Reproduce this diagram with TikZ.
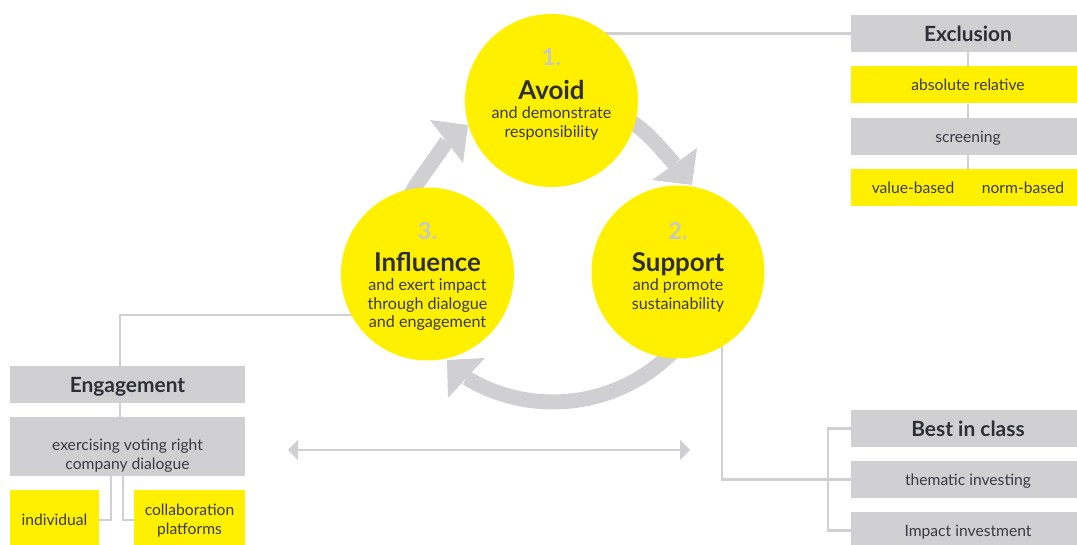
\documentclass[tikz,border=0pt]{standalone}
\usepackage{fontspec}
\setmainfont{Lato}
\usetikzlibrary{arrows.meta}
\definecolor{eyyellow}{HTML}{FFF000}
\definecolor{eygray}{HTML}{D0D0D3}
\definecolor{eydark}{HTML}{2E2E38}
\definecolor{eytext}{HTML}{3A3A42}
\definecolor{numgray}{HTML}{C8C8C4}
\pgfdeclarelayer{background}
\pgfsetlayers{background,main}
\newcommand{\stk}[1]{\begin{tabular}[t]{@{}c@{}}#1\end{tabular}}
\begin{document}
\begin{tikzpicture}[x=1bp,y=1bp,
  circ/.style={circle, fill=eyyellow, minimum size=173bp, inner sep=0pt},
  numtext/.style={anchor=base, text=numgray, font=\bfseries\fontsize{23.5}{26}\selectfont},
  titletext/.style={anchor=base, text=eydark, font=\bfseries\fontsize{26}{28}\selectfont},
  subtext/.style={anchor=base, text=eytext, inner sep=0pt, font=\fontsize{16.2}{18.5}\selectfont},
  gbox/.style={fill=eygray, minimum width=234bp, minimum height=37bp, inner sep=0pt,
    text=eytext, font=\fontsize{15.7}{19}\selectfont, text height=11.6bp, text depth=0pt},
  ybox/.style={gbox, fill=eyyellow},
  headbox/.style={gbox, text=eydark, font=\bfseries\fontsize{21}{24}\selectfont, text height=15.6bp},
  link/.style={draw=eygray, line width=2.5bp},
  cyc/.style={draw=eygray, line width=15bp},
  tiphead/.style={fill=eygray},
  dbl/.style={draw=eygray, line width=2bp, {Triangle[length=10bp,width=20bp]}-{Triangle[length=10bp,width=20bp]}}
]
\useasboundingbox (0,0) rectangle (1077,545);

% circles
\node[circ] (avoid) at (551.5,444.5) {};
\node[circ] (support) at (678,273) {};
\node[circ] (infl) at (427.5,271) {};

% circle texts
\node[numtext] (n1) at (551.5,479.5) {1.};
\node[titletext] (t1) at (551.5,445) {Avoid};
\node[subtext] (s1) at (551.5,426) {\stk{and demonstrate\\responsibility}};

\node[numtext] (n2) at (678,305) {2.};
\node[titletext] (t2) at (678,273) {Support};
\node[subtext] (s2) at (678,254) {\stk{and promote\\sustainability}};

\node[numtext] (n3) at (427.5,305) {3.};
\node[titletext] (t3) at (427.5,273) {Influence};
\node[subtext] (s3) at (427.5,254) {\stk{and exert impact\\through dialogue\\and engagement}};

% exclusion column
\node[headbox] (excl) at (968,511.5) {Exclusion};
\node[ybox] (abs) at (968,460) {absolute relative};
\node[gbox] (scr) at (968,408.5) {screening};
\node[ybox] (val) at (968,357.5) {\makebox[110bp]{value-based}\makebox[110bp]{norm-based}};

% best in class column
\node[headbox] (best) at (968,116.5) {Best in class};
\node[gbox] (them) at (968,65.5) {thematic investing};
\node[gbox] (imp) at (968,14.5) {Impact investment};

% engagement column
\node[headbox, minimum width=235bp] (eng) at (127.5,160.5) {Engagement};
\node[gbox, minimum width=235bp, minimum height=59bp, text height=32.3bp, text depth=24.7bp]
  (exer) at (127.5,98.5) {\stk{exercising voting right\\company dialogue}};
\node[ybox, minimum width=89bp, minimum height=55bp, text height=16.4bp]
  (indiv) at (54.5,27.5) {individual};
\node[ybox, minimum width=111bp, minimum height=55bp, text height=21bp, text depth=24bp,
  font=\fontsize{15.7}{18.5}\selectfont]
  (collab) at (189.5,27.5) {\stk{collaboration\\platforms}};

% free ends
\coordinate (dl) at (288,95);
\coordinate (dr) at (690,95);
\coordinate (c1s) at (400,330);
\coordinate (c1e) at (446.5,403.5);
\coordinate (c2s) at (612,433);
\coordinate (c2e) at (674.5,381);
\coordinate (c3s) at (685.4,207.6);

\begin{pgfonlayer}{background}
  \draw[link] (excl.south) -- (abs.north);
  \draw[link] (abs.south) -- (scr.north);
  \draw[link] (scr.south) -- (val.north);
  \draw[link] (excl.west) -- (avoid.center |- excl.west);
  \draw[link] ([xshift=-7.5bp]eng.north) |- ([yshift=-41bp]infl.center);
  \draw[link] ([xshift=-7.5bp]eng.south) -- ([xshift=-7.5bp]exer.north);
  \draw[link] ([xshift=-16.5bp]exer.south) |- ([yshift=-2.5bp]indiv.east);
  \draw[link] ([xshift=-4.5bp]exer.south) |- ([yshift=-2.5bp]collab.west);
  \draw[link] ([xshift=44bp]support.center) |- (them.west);
  \draw[link] (best.west) -- ++(-23bp,0) |- (imp.west);
  \draw[dbl] (dl) -- (dr);
  % cycle arrows
  \draw[cyc] (c1s) to[out=66,in=237] (c1e);
  \fill[tiphead] (430,425) -- (468,420) -- (463,382) -- cycle;
  \draw[cyc] (c2s) to[out=-22,in=132] (c2e);
  \fill[tiphead] (697,397) -- (692,360) -- (652,365) -- cycle;
  \draw[cyc] (c3s) arc[start angle=-38, end angle=-121, radius=168bp];
  \fill[tiphead] (447,185) -- (485,187) -- (448,147) -- cycle;
\end{pgfonlayer}
\end{tikzpicture}
\end{document}
